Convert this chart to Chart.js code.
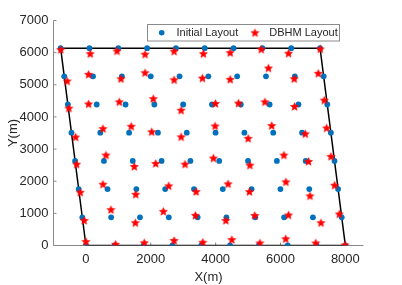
<!DOCTYPE html>
<html>
<head>
<meta charset="utf-8">
<script src="https://cdn.jsdelivr.net/npm/chart.js@4.4.0/dist/chart.umd.min.js"></script>
<style>
html,body{margin:0;padding:0;background:#fff;}
#wrap{width:402px;height:285px;position:relative;}
</style>
</head>
<body>
<div id="wrap"><canvas id="c" width="402" height="285"></canvas></div>
<script>
// ---- data ----
const xTicks = [0, 2000, 4000, 6000, 8000];
const yTicks = [0, 1000, 2000, 3000, 4000, 5000, 6000, 7000];
const seriesNames = ['Initial Layout', 'DBHM Layout'];

const initialX = [
  0, 889, 1778, 2667, 3556, 4444, 5333, 6222, 7111, 8000,
  -111, 778, 1667, 2556, 3445, 4333, 5222, 6111, 7000, 7889,
  -223, 666, 1555, 2444, 3333, 4221, 5110, 5999, 6888, 7777,
  -334, 555, 1444, 2333, 3222, 4110, 4999, 5888, 6777, 7666,
  -446, 443, 1332, 2221, 3110, 3998, 4887, 5776, 6665, 7554,
  -557, 332, 1221, 2110, 2999, 3887, 4776, 5665, 6554, 7443,
  -669, 220, 1109, 1998, 2887, 3775, 4664, 5553, 6442, 7331,
  -780, 109, 998, 1887, 2776, 3664, 4553, 5442, 6331, 7220
];
const initialY = [
  0, 0, 0, 0, 0, 0, 0, 0, 0, 0,
  877, 877, 877, 877, 877, 877, 877, 877, 877, 877,
  1754, 1754, 1754, 1754, 1754, 1754, 1754, 1754, 1754, 1754,
  2631, 2631, 2631, 2631, 2631, 2631, 2631, 2631, 2631, 2631,
  3509, 3509, 3509, 3509, 3509, 3509, 3509, 3509, 3509, 3509,
  4386, 4386, 4386, 4386, 4386, 4386, 4386, 4386, 4386, 4386,
  5263, 5263, 5263, 5263, 5263, 5263, 5263, 5263, 5263, 5263,
  6140, 6140, 6140, 6140, 6140, 6140, 6140, 6140, 6140, 6140
];
const dbhmX = [
  0, 914, 1800, 2718, 3604, 4500, 5365, 6161, 7088, 7990,
  -53, 772, 1523, 2387, 3376, 4314, 5207, 6248, 7248, 7814,
  -176, 525, 1535, 2554, 3397, 4385, 5043, 6168, 6909, 7668,
  -287, 618, 1492, 2153, 3057, 3931, 5056, 6106, 6865, 7557,
  -318, 525, 1396, 2029, 2937, 3984, 5003, 5729, 6764, 7421,
  -525, 83, 1028, 2078, 2934, 3993, 4704, 5519, 6433, 7350,
  -578, 83, 1081, 1822, 2718, 3592, 4447, 5630, 6424, 7165,
  -775, 133, 957, 1822, 2718, 3623, 4447, 5405, 6248, 7227
];
const dbhmY = [
  122, 38, 84, 156, 100, 184, 78, 209, 78, 16,
  781, 1116, 709, 1063, 938, 781, 934, 950, 709, 981,
  1656, 1906, 1594, 1856, 1678, 1919, 1678, 1981, 1544, 1875,
  2531, 2813, 2459, 2553, 2531, 2719, 2500, 2813, 2616, 2772,
  3375, 3638, 3709, 3538, 3381, 3719, 3334, 3731, 3475, 3656,
  4272, 4406, 4469, 4569, 4209, 4419, 4428, 4469, 4325, 4522,
  5116, 5325, 5188, 5375, 5156, 5209, 5169, 5522, 5188, 5356,
  6094, 5969, 6053, 5950, 6044, 5969, 6000, 6106, 5981, 6116
];
const boundaryX = [0, 8000, 7220, -780, 0];
const boundaryY = [0, 0, 6140, 6140, 0];

// ---- styling helpers ----
const BLUE = '#0072BD';
const RED = '#FF0000';
const FONT = "'Liberation Sans', Arial, Helvetica, sans-serif";
const TXT = '#262626';
const AXIS = '#8a8a8a';

function makeStar(color, R) {
  const size = Math.ceil(R * 2 + 2);
  const c = document.createElement('canvas');
  c.width = size; c.height = size;
  const g = c.getContext('2d');
  const cx = size / 2, cy = size / 2 + 0.4, r = R * 0.45;
  g.beginPath();
  for (let i = 0; i < 10; i++) {
    const rad = (i % 2) ? r : R;
    const a = -Math.PI / 2 + i * Math.PI / 5;
    const px = cx + rad * Math.cos(a), py = cy + rad * Math.sin(a);
    if (i === 0) g.moveTo(px, py); else g.lineTo(px, py);
  }
  g.closePath();
  g.fillStyle = color; g.fill();
  g.strokeStyle = color; g.lineWidth = 0.6; g.stroke();
  return c;
}
const starImg = makeStar(RED, 4.2);

const toPts = (xs, ys) => xs.map((x, i) => ({x: x, y: ys[i]}));

// ---- plugin: axes lines, inward ticks, legend ----
const decor = {
  id: 'decor',
  beforeDatasetsDraw(chart) {
    const ctx = chart.ctx, a = chart.chartArea;
    const xs = chart.scales.x, ys = chart.scales.y;
    ctx.save();
    ctx.strokeStyle = AXIS; ctx.lineWidth = 1;
    ctx.beginPath();
    ctx.moveTo(a.left, a.bottom); ctx.lineTo(a.right, a.bottom);
    ctx.moveTo(a.left, a.bottom); ctx.lineTo(a.left, a.top);
    xTicks.forEach(v => { const p = xs.getPixelForValue(v); ctx.moveTo(p, a.bottom); ctx.lineTo(p, a.bottom - 3); });
    yTicks.forEach(v => { const p = ys.getPixelForValue(v); ctx.moveTo(a.left, p); ctx.lineTo(a.left + 3, p); });
    ctx.stroke();
    ctx.restore();
  },
  afterDraw(chart) {
    const ctx = chart.ctx;
    ctx.save();
    const bx = 147.5, by = 24.5, bw = 192, bh = 16.5;
    ctx.fillStyle = '#fff';
    ctx.fillRect(bx, by, bw, bh);
    ctx.strokeStyle = '#8a8a8a'; ctx.lineWidth = 1;
    ctx.strokeRect(bx, by, bw, bh);
    const cy = by + bh / 2;
    ctx.fillStyle = BLUE;
    ctx.beginPath(); ctx.arc(161.7, cy, 2.8, 0, Math.PI * 2); ctx.fill();
    ctx.drawImage(starImg, 255 - starImg.width / 2, cy - starImg.height / 2);
    ctx.fillStyle = TXT;
    ctx.font = '11px ' + FONT;
    ctx.textBaseline = 'middle';
    ctx.textAlign = 'left';
    ctx.fillText(seriesNames[0], 176.5, cy + 0.5);
    ctx.fillText(seriesNames[1], 269.3, cy + 0.5);
    ctx.restore();
  }
};

new Chart(document.getElementById('c'), {
  type: 'scatter',
  data: {
    datasets: [
      {
        label: seriesNames[1],
        data: toPts(dbhmX, dbhmY),
        pointStyle: starImg,
        pointRadius: 4,
        backgroundColor: RED,
        borderColor: RED,
        order: 1
      },
      {
        label: seriesNames[0],
        data: toPts(initialX, initialY),
        pointStyle: 'circle',
        pointRadius: 2.9,
        borderWidth: 0,
        backgroundColor: BLUE,
        borderColor: BLUE,
        order: 2
      },
      {
        label: 'Boundary',
        data: toPts(boundaryX, boundaryY),
        showLine: true,
        pointRadius: 0,
        borderColor: '#000',
        borderWidth: 1.5,
        tension: 0,
        fill: false,
        order: 3
      }
    ]
  },
  options: {
    responsive: false,
    animation: false,
    devicePixelRatio: 1,
    layout: { padding: { top: 20.5, right: 38.5, bottom: 0, left: 0 } },
    plugins: { legend: { display: false }, tooltip: { enabled: false } },
    scales: {
      x: {
        type: 'linear',
        min: -1000, max: 8560,
        afterBuildTicks: s => { s.ticks = xTicks.map(v => ({value: v})); },
        afterFit: s => { s.height = 39.5; },
        grid: { display: false, drawTicks: false },
        border: { display: false },
        ticks: { padding: 6, color: TXT, font: { size: 13, family: FONT }, maxRotation: 0, autoSkip: false,
                 callback: v => String(v) },
        title: { display: true, text: 'X(m)', color: TXT, font: { size: 13, family: FONT }, padding: { top: 0, bottom: 0 } }
      },
      y: {
        type: 'linear',
        min: 0, max: 7000,
        afterBuildTicks: s => { s.ticks = yTicks.map(v => ({value: v})); },
        afterFit: s => { s.width = 53.5; },
        grid: { display: false, drawTicks: false },
        border: { display: false },
        ticks: { padding: 5, color: TXT, font: { size: 13, family: FONT }, autoSkip: false,
                 callback: v => String(v) },
        title: { display: true, text: 'Y(m)', color: TXT, font: { size: 13, family: FONT }, padding: { top: 6, bottom: 0 } }
      }
    }
  },
  plugins: [decor]
});
</script>
</body>
</html>
